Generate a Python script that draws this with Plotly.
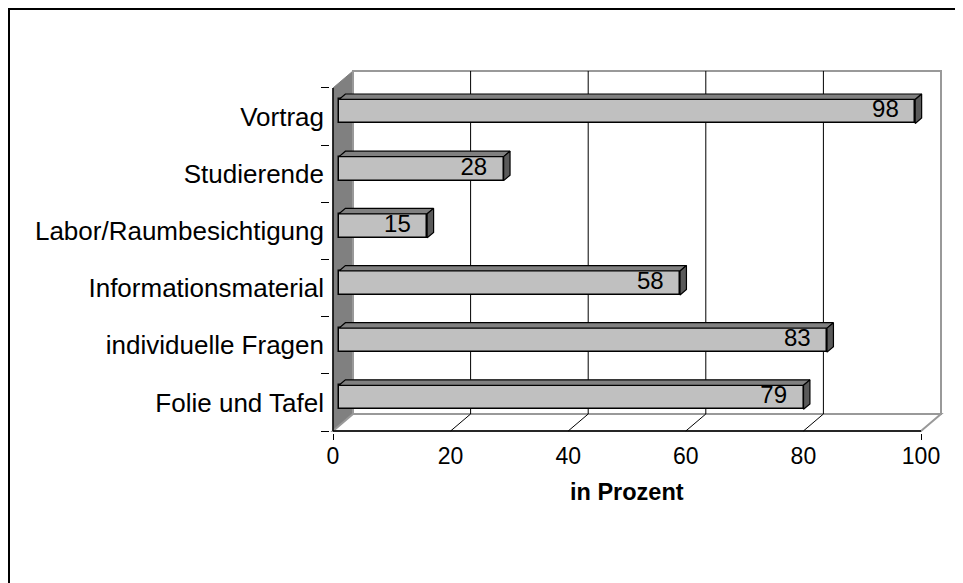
import plotly.graph_objects as go

# data (bottom to top)
categories = ["Folie und Tafel", "individuelle Fragen", "Informationsmaterial",
              "Labor/Raumbesichtigung", "Studierende", "Vortrag"]
values = [79, 83, 58, 15, 28, 98]
x_ticks = [0, 20, 40, 60, 80, 100]
x_title = "in Prozent"

FONT = "Liberation Sans, Arial, sans-serif"
OFF = 8  # page body margin

# pixel geometry of the fake 3D box
PX_X = 5.88      # px per percent
PX_Y = 57.17     # px per category
X0PX = 333 - OFF  # pixel of value 0 on the front plane
Y0PX = 431 - OFF  # pixel of the floor front edge
DX = 20 / PX_X   # depth offset in x units
DY = 17 / PX_Y   # depth offset in y units
F0, F1 = 0.3, 0.62   # bar front/back depth fraction
BAR_H = 24 / PX_Y

L, R, T, B = X0PX - 3, 946 - OFF, 66 - OFF, Y0PX + 2
W, H = 963, 583
xr = [(L - X0PX) / PX_X, (R - X0PX) / PX_X]
yr = [-0.5 + (Y0PX - B) / PX_Y, -0.5 + (Y0PX - T) / PX_Y]
n = len(categories)
ypos = list(range(n))

fig = go.Figure()

# front face of the bars
fig.add_trace(go.Bar(
    orientation="h", y=[i + F0 * DY for i in ypos], x=values, base=F0 * DX,
    width=BAR_H, marker=dict(color="#C0C0C0", line=dict(color="black", width=1.5)),
    hoverinfo="skip", showlegend=False))

# top and side faces
for i, v in zip(ypos, values):
    x0 = F0 * DX
    x1 = x0 + v
    yc = i + F0 * DY
    yt, yb = yc + BAR_H / 2, yc - BAR_H / 2
    ddx, ddy = (F1 - F0) * DX, (F1 - F0) * DY
    fig.add_trace(go.Scatter(
        x=[x0, x0 + ddx, x1 + ddx, x1, x0], y=[yt, yt + ddy, yt + ddy, yt, yt],
        mode="lines", fill="toself", fillcolor="#808080",
        line=dict(color="black", width=1.2), hoverinfo="skip", showlegend=False))
    fig.add_trace(go.Scatter(
        x=[x1, x1 + ddx, x1 + ddx, x1, x1], y=[yt, yt + ddy, yb + ddy, yb, yt],
        mode="lines", fill="toself", fillcolor="#5a5a5a",
        line=dict(color="black", width=1.2), hoverinfo="skip", showlegend=False))

# value labels
fig.add_trace(go.Scatter(
    x=[v + F0 * DX - 2.8 for v in values], y=[i + F0 * DY for i in ypos],
    mode="text", text=[str(v) for v in values], textposition="middle left",
    textfont=dict(family=FONT, size=24, color="black"),
    cliponaxis=False, hoverinfo="skip", showlegend=False))

shapes = []
lo, hi = -0.5, n - 0.5
# side wall
shapes.append(dict(type="path", xref="x", yref="y", layer="below",
                   path=f"M0,{lo} L{DX},{lo + DY} L{DX},{hi + DY} L0,{hi} Z",
                   fillcolor="#808080", line=dict(color="#808080", width=1)))
# back wall
shapes.append(dict(type="rect", xref="x", yref="y", layer="below",
                   x0=DX, x1=x_ticks[-1] + DX, y0=lo + DY, y1=hi + DY,
                   fillcolor="white", line=dict(color="#999999", width=2)))
# floor
shapes.append(dict(type="path", xref="x", yref="y", layer="below",
                   path=f"M0,{lo} L{x_ticks[-1]},{lo} L{x_ticks[-1] + DX},{lo + DY} L{DX},{lo + DY} Z",
                   fillcolor="white", line=dict(color="#999999", width=2)))
# gridlines
for t in x_ticks[1:-1]:
    shapes.append(dict(type="line", xref="x", yref="y", layer="below",
                       x0=t + DX, x1=t + DX, y0=lo + DY, y1=hi + DY,
                       line=dict(color="black", width=1)))
    shapes.append(dict(type="line", xref="x", yref="y", layer="below",
                       x0=t, x1=t + DX, y0=lo, y1=lo + DY,
                       line=dict(color="black", width=1)))
# front edges
shapes.append(dict(type="line", xref="x", yref="y", layer="below",
                   x0=0, x1=x_ticks[-1], y0=lo, y1=lo, line=dict(color="black", width=1.5)))
shapes.append(dict(type="line", xref="x", yref="y", layer="below",
                   x0=0, x1=0, y0=lo, y1=hi, line=dict(color="black", width=1.5)))
# outer frame
pw, ph = R - L, B - T
shapes.append(dict(type="rect", xref="paper", yref="paper",
                   x0=(9 - OFF - L) / pw, x1=(W + 20 - L) / pw,
                   y0=(B - (H + 20)) / ph, y1=(B - (9 - OFF)) / ph,
                   line=dict(color="black", width=2), fillcolor="rgba(0,0,0,0)"))

fig.update_layout(
    width=W, height=H,
    margin=dict(l=L, r=W - R, t=T, b=H - B),
    paper_bgcolor="white", plot_bgcolor="white",
    font=dict(family=FONT, size=24, color="black"),
    shapes=shapes,
    bargap=0,
    xaxis=dict(range=xr, tickvals=x_ticks, showgrid=False, zeroline=False,
               showline=False, ticks="", ticklabelstandoff=7,
               tickfont=dict(size=23)),
    xaxis2=dict(range=xr, overlaying="x", anchor="y", side="bottom",
                tickvals=[x_ticks[0], x_ticks[-1]], ticks="outside", ticklen=6,
                tickcolor="black", showticklabels=False, showgrid=False,
                zeroline=False),
    yaxis=dict(range=yr, tickvals=ypos, ticktext=categories, showgrid=False,
               zeroline=False, showline=False, ticks="", ticklabelstandoff=5,
               tickfont=dict(size=26)),
    yaxis2=dict(range=yr, overlaying="y", anchor="x", side="left",
                tickvals=[i - 0.5 for i in ypos] + [hi], ticks="outside",
                ticklen=8, tickcolor="black", showticklabels=False,
                showgrid=False, zeroline=False),
    annotations=[dict(text=f"<b>{x_title}</b>", x=50, xref="x",
                      y=(B - (492 - OFF)) / ph, yref="paper", showarrow=False,
                      font=dict(size=23.5), xanchor="center", yanchor="middle")],
)
# dummy trace so the overlay axes are drawn
fig.add_trace(go.Scatter(x=[None], y=[None], xaxis="x2", yaxis="y2",
                         showlegend=False, hoverinfo="skip"))

fig.write_html("out.html", config={"displayModeBar": False})
